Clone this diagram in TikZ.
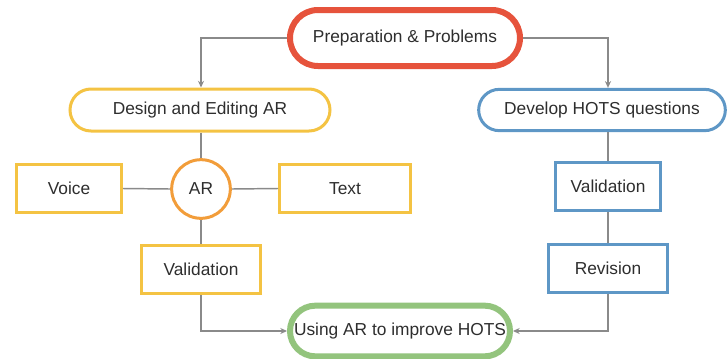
\documentclass[tikz,border=0pt]{standalone}
\usepackage{fontspec}
\setmainfont{Liberation Sans}
\usetikzlibrary{arrows.meta}
\definecolor{cred}{HTML}{E6533C}
\definecolor{cyellow}{HTML}{F4C343}
\definecolor{corange}{HTML}{F29D3A}
\definecolor{cblue}{HTML}{5E97C6}
\definecolor{cgreen}{HTML}{93C47D}
\definecolor{ctext}{HTML}{2E2E2E}
\definecolor{cline}{HTML}{8A8A8A}
\begin{document}
\begin{tikzpicture}[x=0.75pt,y=-0.75pt,
  every node/.style={font=\fontsize{13pt}{15pt}\selectfont, text=ctext, inner sep=0pt},
  pill/.style={draw, fill=white, rounded corners=#1},
  thickpill/.style={pill=#1, line width=4.5pt},
  thinpill/.style={pill=#1, line width=2.25pt},
  sqbox/.style={draw=cyellow, fill=white, line width=2.25pt, minimum height=36pt},
  bluebox/.style={draw=cblue, fill=white, line width=2.25pt, minimum height=36pt},
  link/.style={draw=cline, line width=1.1pt},
  arrowlink/.style={link, -{Stealth[length=5pt,width=4.5pt]}}]
\useasboundingbox (0,0) rectangle (728,358);

% main stages
\node[thickpill=21pt, draw=cred, minimum width=172.5pt, minimum height=42pt] (prep) at (405,38) {Preparation \& Problems};
\node[thinpill=15.75pt, draw=cyellow, minimum width=195pt, minimum height=31.5pt] (design) at (200,110) {Design and Editing AR};
\node[thinpill=15.5pt, draw=cblue, minimum width=185pt, minimum height=31pt] (develop) at (602,110) {Develop HOTS questions};
\node[thickpill=19pt, draw=cgreen, minimum width=165pt, minimum height=38pt] (use) at (400,331) {Using AR to improve HOTS};

% AR branch
\node[circle, draw=corange, fill=white, line width=2.25pt, minimum size=44pt] (ar) at (201,189) {AR};
\node[sqbox, minimum width=78.75pt] (voice) at (69,188.5) {Voice};
\node[sqbox, minimum width=98pt] (text) at (345,188.5) {Text};
\node[sqbox, minimum width=89pt] (lval) at (201,269.5) {Validation};

% HOTS branch
\node[bluebox, minimum width=79pt] (rval) at (608,186.5) {Validation};
\node[bluebox, minimum width=89pt] (rev) at (608,268.5) {Revision};

% connectors
\draw[arrowlink] (prep.west) -| (ar.north |- design.north);
\draw[arrowlink] (prep.east) -| (rval.north |- develop.north);
\draw[link] (ar.north |- design.south) -- (ar.north);
\draw[link] (voice.east) -- (ar.west);
\draw[link] (ar.east) -- (text.west);
\draw[link] (ar.south) -- (lval.north);
\draw[link] (rval.north |- develop.south) -- (rval.north);
\draw[link] (rval.south) -- (rev.north);
\draw[arrowlink] (lval.south) |- (use.west);
\draw[arrowlink] (rev.south) |- (use.east);
\end{tikzpicture}
\end{document}
